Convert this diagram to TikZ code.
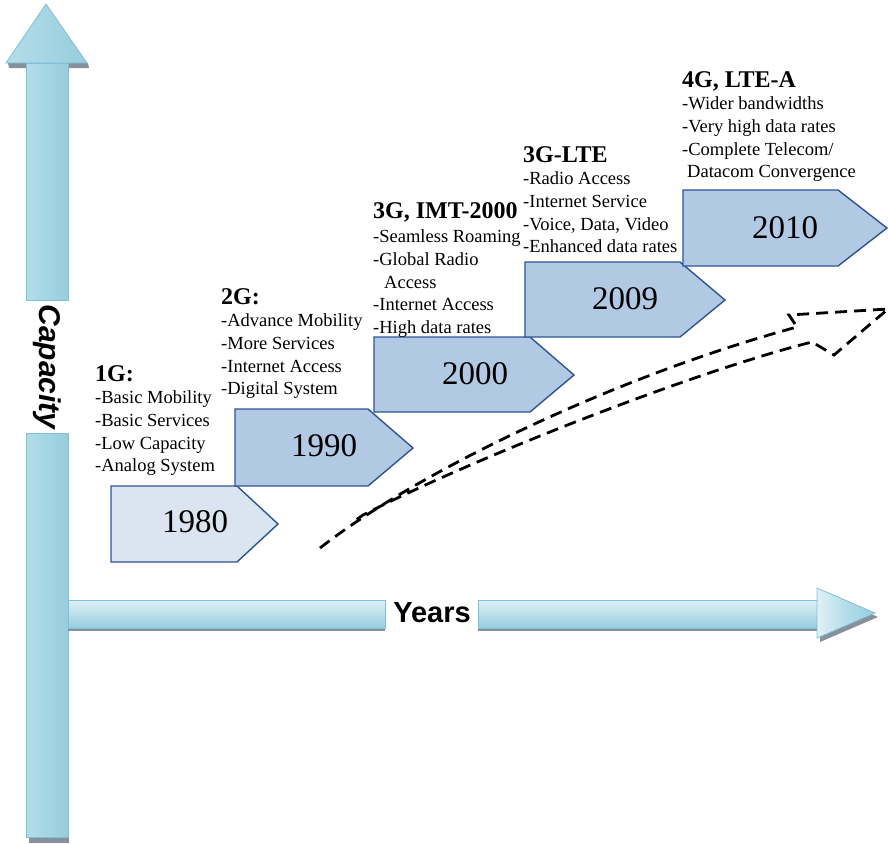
\documentclass[tikz,border=0pt]{standalone}
\usepackage{fontspec}
\setmainfont{Liberation Serif}
\newfontfamily\axisfont{Liberation Sans}
\definecolor{axisedge}{RGB}{128,192,214}
\definecolor{axisdark}{RGB}{150,205,222}
\definecolor{axislight}{RGB}{224,241,246}
\definecolor{axismid}{RGB}{180,221,232}
\definecolor{axisshadow}{RGB}{135,145,155}
\definecolor{boxline}{RGB}{45,85,145}
\definecolor{boxpale}{RGB}{219,229,241}
\definecolor{boxfill}{RGB}{178,201,227}
\newcommand\genhead[1]{{\bfseries\fontsize{24}{26}\selectfont #1}}
\begin{document}
\begin{tikzpicture}[x=1pt,y=-1pt,
  vshaft/.style={draw=axisedge, line width=0.8pt, left color=axismid, middle color=axislight, right color=axisdark},
  hshaft/.style={draw=axisedge, line width=0.8pt, top color=axislight, middle color=axislight!70!axismid, bottom color=axisdark},
  axisshade/.style={fill=axisshadow},
  yearbox/.style={draw=boxline, line width=1.4pt, line join=miter},
  yeartext/.style={font=\fontsize{33}{33}\selectfont, inner sep=0pt},
  genblock/.style={anchor=base west, inner sep=0pt, font=\fontsize{18.5}{22.7}\selectfont},
  axislabel/.style={font=\axisfont\bfseries\fontsize{29}{29}\selectfont, inner sep=0pt},
  trend/.style={draw=black, line width=2.8pt, dash pattern=on 12pt off 7pt, line join=miter}
]
\useasboundingbox (0,0) rectangle (888,843);

% ---- vertical axis (capacity) ----
\fill[axisshade] (8,63) -- (88,63) -- (89,68) -- (9,68) -- cycle;
\fill[axisshade] (29,833) rectangle (69,843);
\path[vshaft] (26,63) rectangle (68,300);
\path[vshaft] (26,433) rectangle (68,837);
\path[vshaft] (6,63) -- (46,4) -- (87,63) -- cycle;
\node[axislabel, font=\axisfont\bfseries\itshape\fontsize{30}{30}\selectfont, rotate=-90] (capacity) at (47,367) {Capacity};

% ---- horizontal axis (years) ----
\fill[axisshade] (68,626) rectangle (385,631);
\fill[axisshade] (478,626) rectangle (820,631);
\fill[axisshade] (820,592) -- (878,617) -- (820,642) -- cycle;
\path[hshaft] (68,600) rectangle (385,628);
\path[hshaft] (478,600) rectangle (818,628);
\path[vshaft, left color=axislight, right color=axisdark, middle color=axismid] (817,588) -- (875,613) -- (817,638) -- cycle;
\node[axislabel] (years) at (432,613) {Years};

% ---- generation arrows ----
\draw[yearbox, fill=boxpale] (111,486) -- (237,486) -- (278,524) -- (237,562) -- (111,562) -- cycle;
\node[yeartext] (y1980) at (195,522) {1980};
\draw[yearbox, fill=boxfill] (235,409) -- (368,409) -- (413,448) -- (368,486) -- (235,486) -- cycle;
\node[yeartext] (y1990) at (324,446) {1990};
\draw[yearbox, fill=boxfill] (374,337) -- (530,337) -- (574,375) -- (530,412) -- (374,412) -- cycle;
\node[yeartext] (y2000) at (475,374) {2000};
\draw[yearbox, fill=boxfill] (525,262) -- (680,262) -- (725,300) -- (680,337) -- (525,337) -- cycle;
\node[yeartext] (y2009) at (625,299) {2009};
\draw[yearbox, fill=boxfill] (683,190) -- (838,190) -- (887,228) -- (838,266) -- (683,266) -- cycle;
\node[yeartext] (y2010) at (785,228) {2010};

% ---- generation features ----
\node[genblock] (g1) at (95,381) {\begin{tabular}[t]{@{}l@{}}\genhead{1G:}\\-Basic Mobility\\-Basic Services\\-Low Capacity\\-Analog System\end{tabular}};
\node[genblock] (g2) at (221,304) {\begin{tabular}[t]{@{}l@{}}\genhead{2G:}\\-Advance Mobility\\-More Services\\-Internet Access\\-Digital System\end{tabular}};
\node[genblock] (g3) at (373,218) {\begin{tabular}[t]{@{}l@{}}\genhead{3G, IMT-2000}\\[2pt]-Seamless Roaming\\-Global Radio\\\hspace{11pt}Access\\-Internet Access\\-High data rates\end{tabular}};
\node[genblock] (g35) at (523,162) {\begin{tabular}[t]{@{}l@{}}\genhead{3G-LTE}\\-Radio Access\\-Internet Service\\-Voice, Data, Video\\-Enhanced data rates\end{tabular}};
\node[genblock] (g4) at (682,87) {\begin{tabular}[t]{@{}l@{}}\genhead{4G, LTE-A}\\-Wider bandwidths\\-Very high data rates\\-Complete Telecom/\\\hspace{5pt}Datacom Convergence\end{tabular}};

% ---- growth trend arrow ----
\coordinate (tail) at (320,548);
\coordinate (tip) at (888,309);
\draw[trend] (tail) .. controls (420,470) and (620,375) .. (797,327)
  -- (789,315) -- (tip) -- (834,355) -- (812,342)
  .. controls (700,370) and (480,455) .. (363,515) -- (356,520);
\end{tikzpicture}
\end{document}
